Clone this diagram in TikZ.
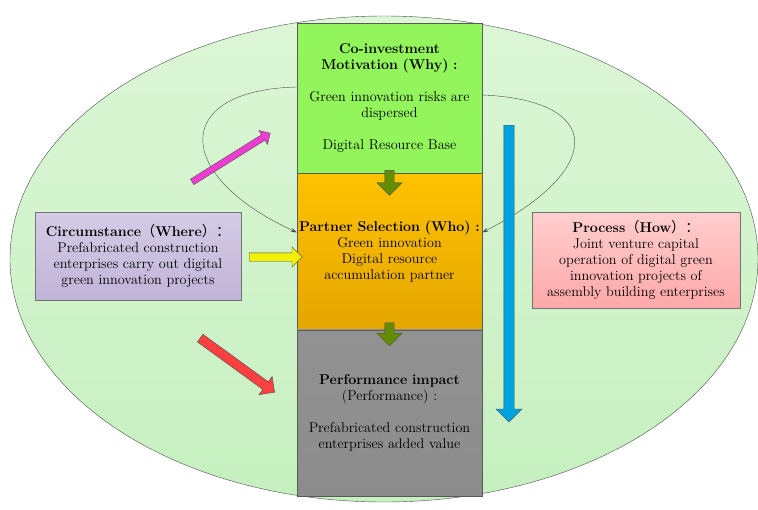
\documentclass[tikz,border=0pt]{standalone}
\usepackage{fontspec}
\newfontfamily\cjk{Noto Sans CJK SC}
\usepackage{tikz}
\usetikzlibrary{positioning,shapes.geometric,shapes.arrows,arrows.meta,backgrounds}

\definecolor{fieldtop}{RGB}{220,246,214}
\definecolor{fieldbot}{RGB}{198,240,192}
\definecolor{whygreen}{RGB}{146,245,92}
\definecolor{whotop}{RGB}{255,194,0}
\definecolor{whobot}{RGB}{228,166,0}
\definecolor{perfgray}{RGB}{140,140,140}
\definecolor{wheretop}{RGB}{212,204,230}
\definecolor{wherebot}{RGB}{192,180,216}
\definecolor{howtop}{RGB}{255,206,206}
\definecolor{howbot}{RGB}{255,168,168}
\definecolor{olive}{RGB}{100,140,0}
\definecolor{pinkarrfill}{RGB}{240,60,210}
\definecolor{redarrfill}{RGB}{250,64,64}
\definecolor{bluearrfill}{RGB}{0,162,222}
\definecolor{yellowarrfill}{RGB}{240,240,0}

\begin{document}
\begin{tikzpicture}[x=1pt,y=-1pt,font=\fontsize{14.2}{16}\selectfont]
            \tikzstyle{stage}=[draw=black!65, text width=185pt, align=center, inner sep=0pt]
            \tikzstyle{sidebox}=[draw=black!55, align=center, inner sep=0pt]
            \tikzstyle{fat}=[single arrow, draw=black!70, inner sep=0pt, minimum width=0pt, anchor=tail]

            \useasboundingbox (0,0) rectangle (758,509);

            \node[stage, minimum height=150pt, fill=whygreen] (why) at (389.5,98)
                {\textbf{Co-investment}\\\textbf{Motivation (Why) :}\\[16pt]
                 Green innovation risks are\\dispersed\\[16pt]Digital Resource Base};
            \node[stage, minimum height=156pt, top color=whotop, bottom color=whobot, below=0pt of why] (who)
                {\textbf{Partner Selection (Who) :}\\Green innovation\\Digital resource\\accumulation partner};
            \node[stage, minimum height=166pt, top color=perfgray!95, bottom color=perfgray, below=0pt of who] (perf)
                {\textbf{Performance impact}\\(Performance) :\\[16pt]
                 Prefabricated construction\\enterprises added value};

            \node[sidebox, minimum width=206pt, minimum height=88pt, top color=wheretop, bottom color=wherebot] (where) at (138,256)
                {\textbf{Circumstance}{\cjk（}\textbf{Where}{\cjk）：}\\Prefabricated construction\\
                 enterprises carry out digital\\green innovation projects};
            \node[sidebox, minimum width=208pt, minimum height=96pt, top color=howtop, bottom color=howbot] (how) at (636,260)
                {\textbf{Process}{\cjk（}\textbf{How}{\cjk）：}\\Joint venture capital\\operation of digital green\\
                 innovation projects of\\assembly building enterprises};

            \node[fat, fill=olive, minimum height=25pt, inner sep=4.5pt, single arrow head extend=8pt, rotate=-90]
                (down1) at ([yshift=3pt]why.south) {};
            \node[fat, fill=olive, minimum height=23pt, inner sep=4.5pt, single arrow head extend=8pt, rotate=-90]
                (down2) at ([yshift=7pt]who.south) {};
            \node[fat, fill=pinkarrfill, minimum height=92pt, inner sep=3pt, single arrow head extend=5pt, rotate=32]
                (pinkarr) at (192,182) {};
            \node[fat, fill=yellowarrfill, minimum height=53pt, inner sep=4pt, single arrow head extend=6pt]
                (yellowarr) at (249,257) {};
            \node[fat, fill=redarrfill, minimum height=92pt, inner sep=4.5pt, single arrow head extend=6.5pt, rotate=-36]
                (redarr) at (200,338) {};
            \node[fat, fill=bluearrfill, minimum height=297pt, inner sep=5pt, single arrow head extend=8pt, rotate=-90]
                (bluearr) at (509,125) {};

            \begin{scope}[on background layer]
                \node[ellipse, draw=black!70, top color=fieldtop, bottom color=fieldbot,
                      minimum width=748pt, minimum height=486pt] (field) at (384,259) {};
                \draw[black!70, {Stealth[length=6pt,width=4pt]}-{Stealth[length=6pt,width=4pt]}]
                    ([yshift=19pt]who.west) .. controls (172,175) and (172,90) .. ([yshift=11pt]why.west)
                    -- ([yshift=3pt]why.east) .. controls (605,100) and (605,170) .. ([yshift=19pt]who.east);
            \end{scope}
        \end{tikzpicture}
\end{document}
